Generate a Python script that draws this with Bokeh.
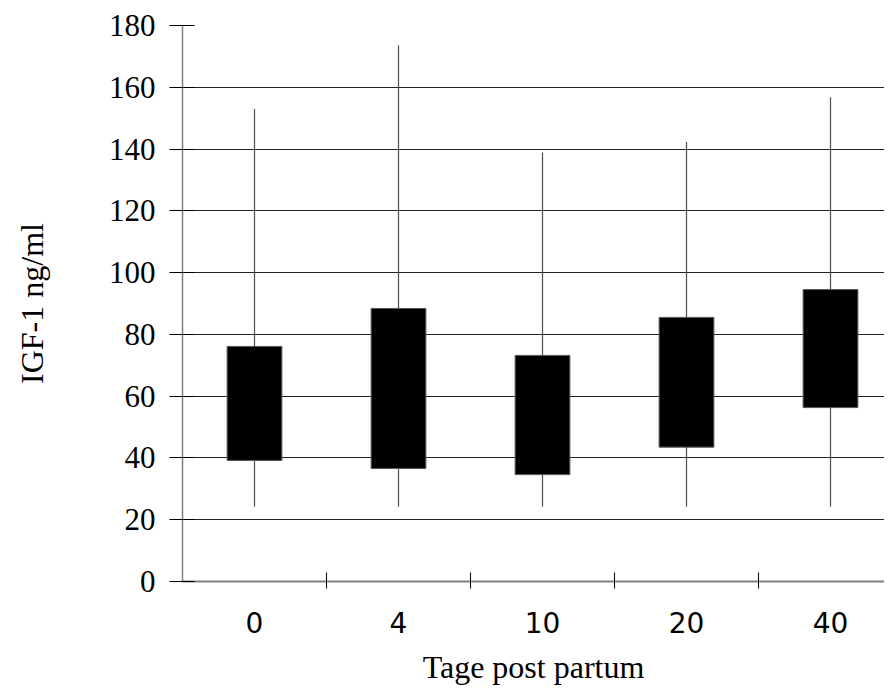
from bokeh.plotting import figure
from bokeh.models import FixedTicker, ColumnDataSource, Range1d
from bokeh.embed import file_html
from bokeh.resources import INLINE

# Data
days = ["0", "4", "10", "20", "40"]
box_low = [39.2, 36.6, 34.6, 43.5, 56.3]
box_high = [76.1, 88.4, 73.2, 85.5, 94.5]
whisker_low = [24.3, 24.3, 24.3, 24.3, 24.3]
whisker_high = [153.0, 173.5, 138.9, 142.4, 156.8]
y_ticks = [0, 20, 40, 60, 80, 100, 120, 140, 160, 180]

xpos = [i + 0.5 for i in range(len(days))]
src = ColumnDataSource(dict(x=xpos, lo=box_low, hi=box_high,
                            wlo=whisker_low, whi=whisker_high))

p = figure(width=884, frame_width=702, frame_height=556,
           x_range=Range1d(0, 4.875), y_range=Range1d(0, 180),
           output_backend="svg", toolbar_location=None,
           min_border_left=182, min_border_top=25, min_border_right=0,
           min_border_bottom=0)
p.outline_line_color = None
p.background_fill_color = "white"

# whiskers
p.segment(x0="x", y0="wlo", x1="x", y1="whi", source=src,
          line_color="#4d4d4d", line_width=1.2)
# boxes
p.vbar(x="x", width=0.38, bottom="lo", top="hi", source=src,
       fill_color="black", line_color="#555555", line_width=1)

# y axis
yax = p.yaxis[0]
yax.ticker = FixedTicker(ticks=y_ticks)
yax.axis_line_color = "#808080"
yax.axis_line_width = 1.5
yax.major_tick_in = 12
yax.major_tick_out = 13
yax.major_tick_line_color = "black"
yax.minor_tick_line_color = None
yax.major_label_text_font = "Liberation Serif"
yax.major_label_text_font_size = "31px"
yax.major_label_text_color = "black"
yax.major_label_standoff = 14
yax.axis_label = "IGF-1 ng/ml"
yax.axis_label_text_font = "Liberation Serif"
yax.axis_label_text_font_size = "32px"
yax.axis_label_text_font_style = "normal"
yax.axis_label_text_color = "black"
yax.axis_label_standoff = 56

# x axis
xax = p.xaxis[0]
xax.ticker = FixedTicker(ticks=xpos, minor_ticks=[1, 2, 3, 4])
xax.major_label_overrides = {xv: d for xv, d in zip(xpos, days)}
xax.axis_line_color = "#808080"
xax.axis_line_width = 2
xax.major_tick_line_color = None
xax.minor_tick_line_color = "black"
xax.minor_tick_in = 9
xax.minor_tick_out = 7
xax.major_label_text_font = "DejaVu Sans"
xax.major_label_text_font_size = "28px"
xax.major_label_text_color = "black"
xax.major_label_standoff = 23
xax.axis_label = "Tage post partum"
xax.axis_label_text_font = "Liberation Serif"
xax.axis_label_text_font_size = "32px"
xax.axis_label_text_font_style = "normal"
xax.axis_label_text_color = "black"
xax.axis_label_standoff = 13

p.xgrid.grid_line_color = None
p.ygrid.ticker = FixedTicker(ticks=y_ticks[1:])
p.ygrid.grid_line_color = "#222222"
p.ygrid.grid_line_width = 1

open("out.html", "w").write(file_html(p, INLINE))
